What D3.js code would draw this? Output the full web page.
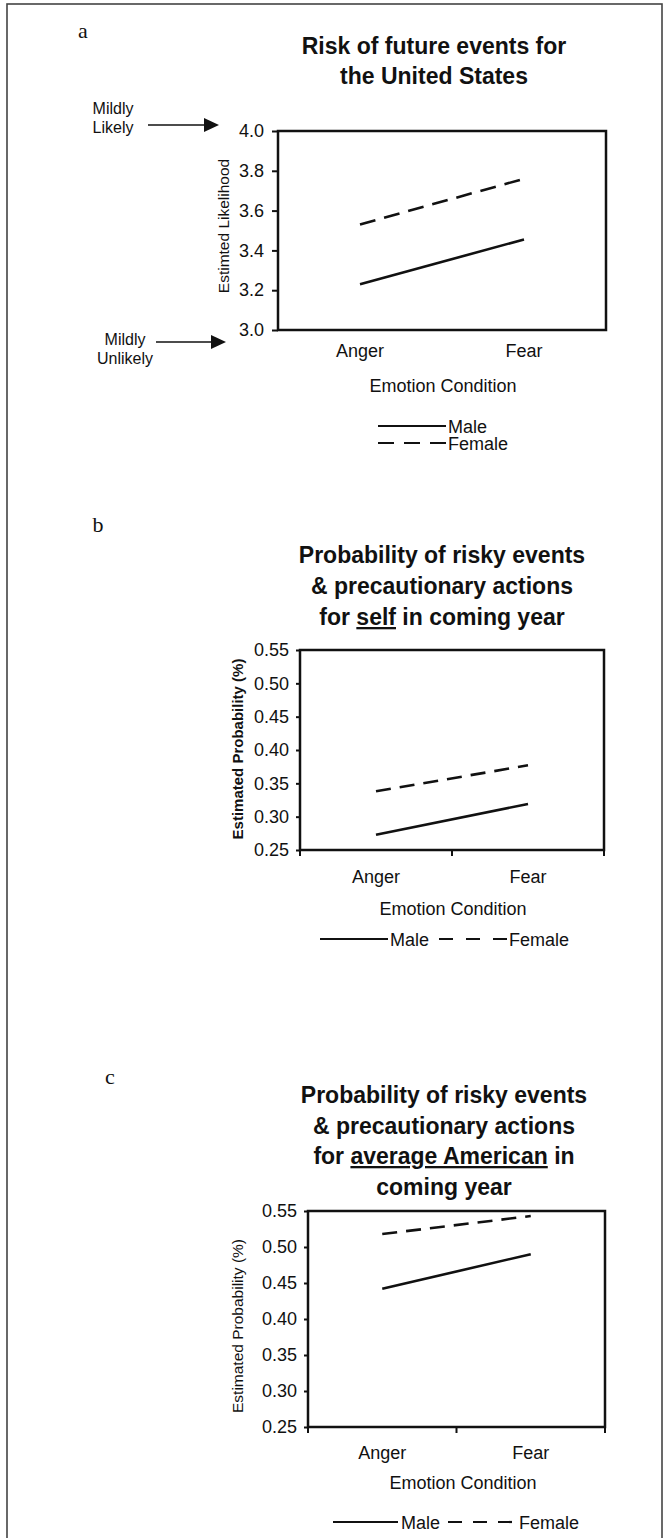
<!DOCTYPE html>
<html><head><meta charset="utf-8">
<script src="https://cdn.jsdelivr.net/npm/d3@7"></script>
<style>
body{margin:0;background:#fff}
svg{display:block}
text{font-family:"Liberation Sans",Arial,Helvetica,sans-serif;fill:#111}
</style>
</head><body>
<svg id="chart" width="668" height="1538"></svg>
<script>
// ---------- DATA ----------
const categories = ["Anger", "Fear"];
const seriesNames = ["Male", "Female"];

const usMale = [3.23, 3.455];
const usFemale = [3.53, 3.76];
const usTicks = [3.0, 3.2, 3.4, 3.6, 3.8, 4.0];

const selfMale = [0.273, 0.319];
const selfFemale = [0.338, 0.377];

const avgMale = [0.442, 0.490];
const avgFemale = [0.518, 0.543];

const probTicks = [0.25, 0.30, 0.35, 0.40, 0.45, 0.50, 0.55];

const titleA = [[["Risk of future events for", false]], [["the United States", false]]];
const titleB = [[["Probability of risky events", false]], [["& precautionary actions", false]],
                [["for ", false], ["self", true], [" in coming year", false]]];
const titleC = [[["Probability of risky events", false]], [["& precautionary actions", false]],
                [["for ", false], ["average American", true], [" in", false]], [["coming year", false]]];

const xTitle = "Emotion Condition";
const yTitleA = "Estimted Likelihood";
const yTitleBC = "Estimated Probability (%)";
const anchorLabels = [["Mildly", "Likely"], ["Mildly", "Unlikely"]];

// ---------- DRAW ----------
const svg = d3.select("#chart");
svg.append("rect").attr("x", 7).attr("y", 4).attr("width", 655).attr("height", 1560)
  .attr("fill", "none").attr("stroke", "#444").attr("stroke-width", 1.6);

function panel(cfg) {
  const g = svg.append("g");
  const {l, r, t, b} = cfg.box;
  const x = d3.scalePoint().domain(categories).range([l, r]).padding(0.5);
  const xb = d3.scaleBand().domain(categories).range([l, r]);
  const y = d3.scaleLinear().domain(cfg.domain).range([b, t]);

  // panel letter
  g.append("text").attr("x", cfg.letter.x).attr("y", cfg.letter.y)
    .style("font-family", "'Liberation Serif','Times New Roman',serif")
    .style("font-size", "22px").attr("text-anchor", "middle").text(cfg.letter.t);

  // title
  cfg.title.forEach((line, i) => {
    const tx = g.append("text").attr("x", cfg.titleX).attr("y", cfg.titleY + i * cfg.titleLH)
      .attr("text-anchor", "middle").style("font-size", "23px").style("font-weight", "bold");
    line.forEach(([s, u]) => {
      const ts = tx.append("tspan").text(s);
      if (u) ts.style("text-decoration", "underline");
    });
  });

  // y axis
  const ax = g.append("g").attr("transform", `translate(${l},0)`)
    .call(d3.axisLeft(y).tickValues(cfg.ticks).tickSize(cfg.tickLen).tickPadding(cfg.tickPad)
      .tickFormat(d3.format(cfg.fmt)));
  ax.select(".domain").remove();
  ax.selectAll(".tick line").attr("stroke", "#111").attr("stroke-width", 2);
  ax.selectAll(".tick text").style("font-size", "18px").style("font-family", "'Liberation Sans',Arial,sans-serif").attr("fill", "#111");

  // x boundary ticks
  if (cfg.xTicks) {
    const edges = categories.map(c => xb(c)).concat([xb(categories[categories.length - 1]) + xb.bandwidth()]);
    g.selectAll(".xt").data(edges).enter().append("line")
      .attr("x1", d => d).attr("x2", d => d).attr("y1", b).attr("y2", b + 6)
      .attr("stroke", "#111").attr("stroke-width", 2);
  }

  // box
  g.append("rect").attr("x", l).attr("y", t).attr("width", r - l).attr("height", b - t)
    .attr("fill", "none").attr("stroke", "#111").attr("stroke-width", 2.5);

  // category labels
  g.selectAll(".cat").data(categories).enter().append("text")
    .attr("x", d => x(d)).attr("y", cfg.catY).attr("text-anchor", "middle")
    .style("font-size", "18px").text(d => d);

  // x title
  g.append("text").attr("x", cfg.xTitleX).attr("y", cfg.xTitleY).attr("text-anchor", "middle")
    .style("font-size", "18px").text(xTitle);

  // y title
  g.append("text").attr("transform", `translate(${cfg.yTitle.x},${cfg.yTitle.y}) rotate(-90)`)
    .attr("text-anchor", "middle").attr("dominant-baseline", "central")
    .style("font-size", cfg.yTitle.size + "px").style("font-weight", cfg.yTitle.bold ? "bold" : "normal")
    .text(cfg.yTitle.t);

  // lines
  const line = d3.line().x((d, i) => x(categories[i])).y(d => y(d));
  g.append("path").datum(cfg.male).attr("d", line).attr("fill", "none")
    .attr("stroke", "#111").attr("stroke-width", 2.6);
  g.append("path").datum(cfg.female).attr("d", line).attr("fill", "none")
    .attr("stroke", "#111").attr("stroke-width", 2.6).attr("stroke-dasharray", cfg.dash);

  // legend
  const L = cfg.legend;
  L.items.forEach((it, i) => {
    g.append("line").attr("x1", it.x1).attr("x2", it.x2).attr("y1", it.y).attr("y2", it.y)
      .attr("stroke", "#111").attr("stroke-width", 2.2)
      .attr("stroke-dasharray", i === 1 ? it.dash : null);
    g.append("text").attr("x", it.tx).attr("y", it.y + 6.5).style("font-size", "18px").text(seriesNames[i]);
  });
  return {x, y};
}

const A = panel({
  box: {l: 278, r: 606, t: 131, b: 330}, domain: [3.0, 4.0], ticks: usTicks, fmt: ".1f",
  tickLen: 6, tickPad: 8, xTicks: false,
  letter: {x: 83, y: 38, t: "a"},
  title: titleA, titleX: 434, titleY: 54, titleLH: 30,
  catY: 357, xTitleX: 443, xTitleY: 392,
  yTitle: {x: 223, y: 226, size: 15.5, bold: false, t: yTitleA},
  male: usMale, female: usFemale, dash: "16,9",
  legend: {items: [
    {x1: 378, x2: 446, y: 426, tx: 448},
    {x1: 378, x2: 446, y: 443, tx: 448, dash: "16,10"}
  ]}
});

// anchor annotations for panel a
function arrow(x0, x1, yy) {
  svg.append("line").attr("x1", x0).attr("x2", x1 - 13).attr("y1", yy).attr("y2", yy)
    .attr("stroke", "#111").attr("stroke-width", 1.6);
  svg.append("path").attr("d", `M${x1 - 15},${yy - 7}L${x1},${yy}L${x1 - 15},${yy + 7}Z`).attr("fill", "#111");
}
const annY = [A.y(usTicks[usTicks.length - 1]) - 6, A.y(usTicks[0]) + 12];
[[113, 148, 219], [125, 156, 226]].forEach(([tx, a0, a1], i) => {
  const t = svg.append("text").attr("text-anchor", "middle").style("font-size", "16px");
  const base = i === 0 ? annY[0] - 11 : annY[1] + 3;
  anchorLabels[i].forEach((s, j) => {
    t.append("tspan").attr("x", tx).attr("y", base + j * 19).text(s);
  });
  arrow(a0, a1, annY[i]);
});

panel({
  box: {l: 300, r: 604, t: 650, b: 850}, domain: [0.25, 0.55], ticks: probTicks, fmt: ".2f",
  tickLen: 4, tickPad: 7, xTicks: true,
  letter: {x: 98, y: 532, t: "b"},
  title: titleB, titleX: 442, titleY: 563, titleLH: 31,
  catY: 883, xTitleX: 453, xTitleY: 915,
  yTitle: {x: 237, y: 749, size: 15, bold: true, t: yTitleBC},
  male: selfMale, female: selfFemale, dash: "15,9",
  legend: {items: [
    {x1: 320, x2: 388, y: 939, tx: 390},
    {x1: 439, x2: 508, y: 939, tx: 509, dash: "14,13"}
  ]}
});

panel({
  box: {l: 308, r: 605, t: 1211, b: 1427}, domain: [0.25, 0.55], ticks: probTicks, fmt: ".2f",
  tickLen: 4, tickPad: 7, xTicks: true,
  letter: {x: 110, y: 1084, t: "c"},
  title: titleC, titleX: 444, titleY: 1103, titleLH: 30.5,
  catY: 1459, xTitleX: 463, xTitleY: 1489,
  yTitle: {x: 237, y: 1326, size: 15.5, bold: false, t: yTitleBC},
  male: avgMale, female: avgFemale, dash: "15,9",
  legend: {items: [
    {x1: 333, x2: 398, y: 1522, tx: 401},
    {x1: 448, x2: 514, y: 1522, tx: 519, dash: "14,11"}
  ]}
});
</script>
</body></html>
